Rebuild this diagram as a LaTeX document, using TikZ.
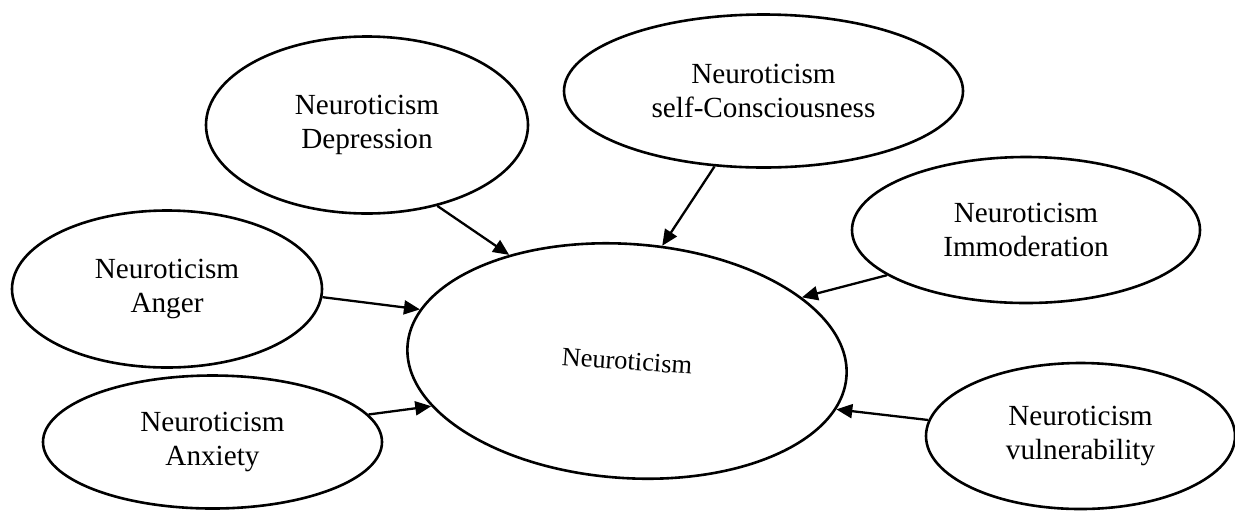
\documentclass[tikz,border=0pt]{standalone}
\usepackage{fontspec}
\setmainfont{Liberation Serif}
\usetikzlibrary{shapes.geometric,arrows.meta}
\begin{document}
\begin{tikzpicture}[x=0.5pt,y=-0.5pt,
  ell/.style={draw=black,line width=1.3pt,ellipse,inner sep=0pt,align=center,
    font=\fontsize{14.6pt}{16.6pt}\selectfont},
  mainell/.style={draw=black,line width=1.3pt,ellipse,inner sep=0pt,align=center,
    font=\fontsize{13.2pt}{15pt}\selectfont,rotate=-4},
  arr/.style={draw=black,line width=1.15pt,-{Triangle[length=8pt,width=7pt]}}]
\useasboundingbox (0,0) rectangle (1235,510);
\node[mainell,minimum width=220pt,minimum height=117pt] (cen) at (627,361) {Neuroticism};
\node[ell,minimum width=161pt,minimum height=88.5pt] (dep) at (367,125) {Neuroticism\\Depression};
\node[ell,minimum width=199.5pt,minimum height=76.5pt] (self) at (763.5,91) {Neuroticism\\self-Consciousness};
\node[ell,minimum width=174pt,minimum height=73pt] (imm) at (1026,230) {Neuroticism\\Immoderation};
\node[ell,minimum width=155pt,minimum height=78.5pt] (ang) at (167,289) {Neuroticism\\Anger};
\node[ell,minimum width=169.5pt,minimum height=66.5pt] (anx) at (212.5,442) {Neuroticism\\Anxiety};
\node[ell,minimum width=154.5pt,minimum height=73pt] (vul) at (1080.5,436) {Neuroticism\\vulnerability};
\draw[arr] (dep.-49.5) -- (cen.142.5);
\draw[arr] (self.237.8) -- (cen.77.4);
\draw[arr] (imm.198.9) -- (cen.24.9);
\draw[arr] (ang.-3.6) -- (cen.170.9);
\draw[arr] (anx.10.7) -- (cen.197.6);
\draw[arr] (vul.174) -- (cen.-9.7);
\end{tikzpicture}
\end{document}
